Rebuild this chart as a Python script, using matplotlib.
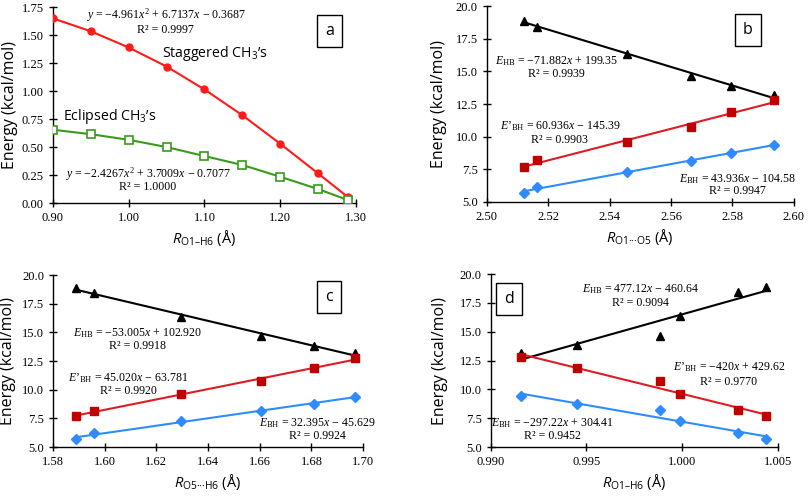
import matplotlib
matplotlib.use("Agg")
import matplotlib.pyplot as plt
import numpy as np
from matplotlib.ticker import FormatStrFormatter, MultipleLocator

plt.rcParams["font.family"] = ["Liberation Serif", "DejaVu Serif"]
plt.rcParams["mathtext.fontset"] = "custom"
plt.rcParams["mathtext.rm"] = "Liberation Serif"
plt.rcParams["mathtext.it"] = "Liberation Serif:italic"
plt.rcParams["mathtext.sf"] = "Open Sans"
plt.rcParams["mathtext.bf"] = "Open Sans:italic"

SANS = ["Open Sans", "DejaVu Sans"]
EQ_SIZE = 8.6

# panel a: energy vs O1-H6 distance
r_a = [0.90, 0.95, 1.00, 1.05, 1.10, 1.15, 1.20, 1.25, 1.29]
staggered = [1.65, 1.535, 1.39, 1.22, 1.015, 0.785, 0.53, 0.265, 0.05]
eclipsed = [0.655, 0.615, 0.565, 0.50, 0.42, 0.34, 0.235, 0.125, 0.025]

# panels b-d: same six structures against three distances
r_o1_o5 = [2.5122, 2.5165, 2.5458, 2.5666, 2.5794, 2.5937]
r_o5_h6 = [1.5888, 1.5957, 1.6294, 1.6604, 1.6810, 1.6970]
r_o1_h6 = [1.00439, 1.00295, 0.99987, 0.99885, 0.99452, 0.99156]
e_hb = [18.88, 18.42, 16.36, 14.66, 13.85, 13.18]
e_bh_prime = [7.67, 8.18, 9.63, 10.72, 11.87, 12.80]
e_bh = [5.69, 6.18, 7.27, 8.17, 8.73, 9.40]

eq_a = [r"$y$ = −4.961$x^2$ + 6.7137$x$ − 0.3687", "R² = 0.9997",
        r"$y$ = −2.4267$x^2$ + 3.7009$x$ − 0.7077", "R² = 1.0000"]
eq_b = [r"$E_{\mathrm{HB}}$ = −71.882$x$ + 199.35", "R² = 0.9939",
        r"$E’_{\mathrm{BH}}$ = 60.936$x$ − 145.39", "R² = 0.9903",
        r"$E_{\mathrm{BH}}$ = 43.936$x$ − 104.58", "R² = 0.9947"]
eq_c = [r"$E_{\mathrm{HB}}$ = −53.005$x$ + 102.920", "R² = 0.9918",
        r"$E’_{\mathrm{BH}}$ = 45.020$x$ − 63.781", "R² = 0.9920",
        r"$E_{\mathrm{BH}}$ = 32.395$x$ − 45.629", "R² = 0.9924"]
eq_d = [r"$E_{\mathrm{HB}}$ = 477.12$x$ − 460.64", "R² = 0.9094",
        r"$E’_{\mathrm{BH}}$ = −420$x$ + 429.62", "R² = 0.9770",
        r"$E_{\mathrm{BH}}$ = −297.22$x$ + 304.41", "R² = 0.9452"]

RED = "#ff1a1a"
GREEN = "#3a9a1c"
DARK_RED = "#c00000"
LINE_RED = "#dd1c24"
BLUE = "#2f8cff"


def style_axes(ax, xlim, xstep, xfmt, ylim, ystep, yfmt, ylab_x):
    ax.set_xlim(*xlim)
    ax.set_ylim(*ylim)
    ax.xaxis.set_major_locator(MultipleLocator(xstep))
    ax.yaxis.set_major_locator(MultipleLocator(ystep))
    ax.xaxis.set_major_formatter(FormatStrFormatter(xfmt))
    ax.yaxis.set_major_formatter(FormatStrFormatter(yfmt))
    ax.spines[["top", "right"]].set_visible(False)
    for s in ("left", "bottom"):
        ax.spines[s].set_linewidth(1.0)
    ax.tick_params(direction="inout", length=6, width=1.0, labelsize=9)
    ax.set_ylabel("Energy (kcal/mol)", family=SANS, fontsize=11.5)
    # x here is the right edge of the rotated label
    ax.yaxis.set_label_coords(ylab_x, 0.5)


def box_label(ax, x, y, s):
    ax.text(x, y, s, transform=ax.transAxes, ha="center", va="center",
            family=SANS, fontsize=11.5,
            bbox=dict(boxstyle="square,pad=0.5", fc="white", ec="black", lw=1.0))


def eq_pair(ax, x, y1, y2, lines):
    ax.text(x, y1, lines[0], ha="center", va="center", fontsize=EQ_SIZE)
    ax.text(x, y2, lines[1], ha="center", va="center", fontsize=EQ_SIZE)


def fit_panel(ax, x):
    x = np.asarray(x)
    xs = np.array([x.min(), x.max()])
    series = [(e_hb, "k", "k", "^"),
              (e_bh_prime, LINE_RED, DARK_RED, "s"),
              (e_bh, BLUE, BLUE, "D")]
    for y, lc, mc, m in series:
        k, b = np.polyfit(x, y, 1)
        ax.plot(xs, k * xs + b, color=lc, lw=1.5, zorder=2)
        ax.plot(x, y, ls="none", marker=m, color=mc, ms=6 if m != "D" else 5, zorder=3)


fig = plt.figure(figsize=(8.1, 4.97), dpi=100)
ax_a = fig.add_axes([0.0654, 0.5915, 0.374, 0.394])
ax_b = fig.add_axes([0.601, 0.5936, 0.379, 0.394])
ax_c = fig.add_axes([0.0654, 0.1006, 0.383, 0.346])
ax_d = fig.add_axes([0.606, 0.1006, 0.354, 0.348])

# panel a
ax_a.plot(r_a, staggered, color=RED, lw=1.5, marker="o", ms=5, zorder=3)
ax_a.plot(r_a, eclipsed, color=GREEN, lw=1.5, marker="s", ms=6,
          mfc="white", mew=1.2, zorder=3)
style_axes(ax_a, (0.90, 1.30), 0.10, "%.2f", (0, 1.75), 0.25, "%.2f", -0.116)
ax_a.set_xlabel(r"$\mathbf{R}_{\mathsf{O1–H6}}$ (Å)", family=SANS, fontsize=10.5, labelpad=3)
eq_pair(ax_a, 1.049, 1.675, 1.545, eq_a[0:2])
eq_pair(ax_a, 1.025, 0.255, 0.145, eq_a[2:4])
ax_a.text(1.044, 1.34, r"Staggered CH$_{\mathsf{3}}$’s", family=SANS, fontsize=10.2,
          ha="left", va="center")
ax_a.text(0.913, 0.77, r"Eclipsed CH$_{\mathsf{3}}$’s", family=SANS, fontsize=10.2,
          ha="left", va="center")
box_label(ax_a, 0.914, 0.88, "a")

# panel b
fit_panel(ax_b, r_o1_o5)
style_axes(ax_b, (2.50, 2.60), 0.02, "%.2f", (5, 20), 2.5, "%.1f", -0.130)
ax_b.set_xlabel(r"$\mathbf{R}_{\mathsf{O1···O5}}$ (Å)", family=SANS, fontsize=10.5, labelpad=3)
eq_pair(ax_b, 2.5227, 15.81, 14.77, eq_b[0:2])
eq_pair(ax_b, 2.5238, 10.82, 9.74, eq_b[2:4])
eq_pair(ax_b, 2.5816, 6.72, 5.84, eq_b[4:6])
box_label(ax_b, 0.85, 0.878, "b")

# panel c
fit_panel(ax_c, r_o5_h6)
style_axes(ax_c, (1.58, 1.70), 0.02, "%.2f", (5, 20), 2.5, "%.1f", -0.119)
ax_c.set_xlabel(r"$\mathbf{R}_{\mathsf{O5···H6}}$ (Å)", family=SANS, fontsize=10.5, labelpad=3)
eq_pair(ax_c, 1.6127, 14.97, 13.81, eq_c[0:2])
eq_pair(ax_c, 1.6092, 11.04, 9.88, eq_c[2:4])
eq_pair(ax_c, 1.6824, 7.12, 5.96, eq_c[4:6])
box_label(ax_c, 0.889, 0.87, "c")

# panel d
fit_panel(ax_d, r_o1_h6)
style_axes(ax_d, (0.990, 1.005), 0.005, "%.3f", (5, 20), 2.5, "%.1f", -0.150)
ax_d.set_xlabel(r"$\mathbf{R}_{\mathsf{O1–H6}}$ (Å)", family=SANS, fontsize=10.5, labelpad=3)
eq_pair(ax_d, 0.99781, 18.70, 17.51, eq_d[0:2])
eq_pair(ax_d, 1.00244, 11.91, 10.66, eq_d[2:4])
eq_pair(ax_d, 0.99321, 7.11, 5.98, eq_d[4:6])
box_label(ax_d, 0.064, 0.858, "d")

fig.savefig("out.png", dpi=100)
